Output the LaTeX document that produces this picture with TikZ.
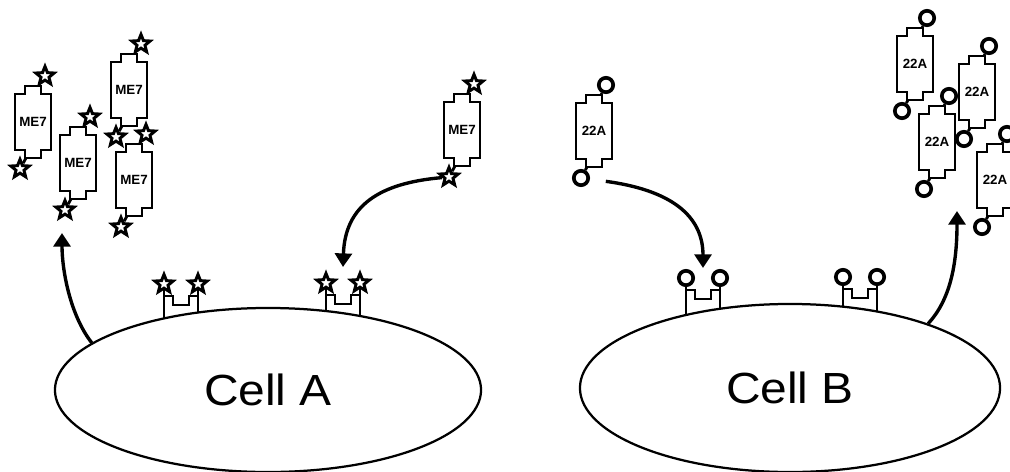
\documentclass[tikz,border=0pt]{standalone}
\usepackage{fontspec}
\setmainfont{Liberation Sans}
\usetikzlibrary{shapes.geometric,arrows.meta}

\begin{document}
\begin{tikzpicture}[
    x=0.025cm, y=-0.025cm,
    cell/.style={ellipse, draw, line width=1.6pt, fill=white, inner sep=0pt, font=\fontsize{31}{36}\selectfont},
    molline/.style={line width=2pt, line join=miter},
    starend/.style={star, star points=5, star point ratio=2.3, draw, fill=white, line width=2.1pt, minimum size=0.48cm, inner sep=0pt},
    ringend/.style={circle, draw, fill=white, line width=2.6pt, minimum size=0.36cm, inner sep=0pt},
    molend/.style={starend},
    moltext/.style={font=\bfseries\fontsize{9.5}{10}\selectfont, inner sep=0pt},
    arrow/.style={-{Triangle[width=0.42cm,length=0.34cm]}, line width=2.4pt},
    mol/.pic={
        \draw[molline, fill=white] (-18,-28) -- (-8,-28) -- (-8,-36) -- (8,-36) -- (8,-28) -- (18,-28)
            -- (18,28) -- (8,28) -- (8,36) -- (-8,36) -- (-8,28) -- (-18,28) -- cycle;
        \node[molend] (-top) at (12,-46) {};
        \node[molend] (-bot) at (-13,47) {};
        \draw[molline] (7,-36) -- (-top);
        \draw[molline] (-7,36) -- (-bot);
        \node[moltext] (-name) at (0,0) {#1};
    },
    receptor/.pic={
        \draw[molline] (0,0) -- (0,45) (34,0) -- (34,45);
        \draw[molline] (0,12) -- (9,12) -- (9,21) -- (25,21) -- (25,12) -- (34,12);
        \node[molend] (-l) at (0,0) {};
        \node[molend] (-r) at (34,0) {};
    }
]
\clip (0,0) rectangle (1010,472);

% ME7 ligands
\pic (m1) at (33,122) {mol=ME7};
\pic (m2) at (78,163) {mol=ME7};
\pic (m3) at (129,90) {mol=ME7};
\pic (m4) at (134,180) {mol=ME7};
\pic (m5) at (462,130) {mol=ME7};

% receptors of cell A
\pic (rA1) at (164,284) {receptor};
\pic (rA2) at (326,283) {receptor};

% 22A ligands and receptors of cell B
\begin{scope}[molend/.style={ringend}]
\pic (f1) at (594,131) {mol=22A};
\pic (g1) at (915,64) {mol=22A};
\pic (g2) at (977,92) {mol=22A};
\pic (g3) at (937,142) {mol=22A};
\pic (g4) at (995,180) {mol=22A};
\pic (rB1) at (686,278) {receptor};
\pic (rB2) at (843,277) {receptor};
\end{scope}

% Cells
\node[cell, minimum width=10.65cm, minimum height=4.1cm] (cellA) at (268,390) {\scalebox{1.1}[1]{Cell A}};
\node[cell, minimum width=10.5cm, minimum height=4.2cm] (cellB) at (790,388) {\scalebox{1.1}[1]{Cell B}};

% Arrow ends
\coordinate (upA) at (62,233);
\coordinate (dockA) at (343,267);
\coordinate (dockB) at (703,268);
\coordinate (upB) at (957,211);

% Connections
\draw[arrow] (cellA.165) .. controls (70,315) and (62,270) .. (upA);
\draw[arrow] (m5-bot) .. controls (380,183) and (345,205) .. (dockA);
\draw[arrow, shorten <=0.4cm] (f1-bot) .. controls (670,190) and (703,215) .. (dockB);
\draw[arrow] (cellB.25) .. controls (950,300) and (957,265) .. (upB);

\end{tikzpicture}
\end{document}
